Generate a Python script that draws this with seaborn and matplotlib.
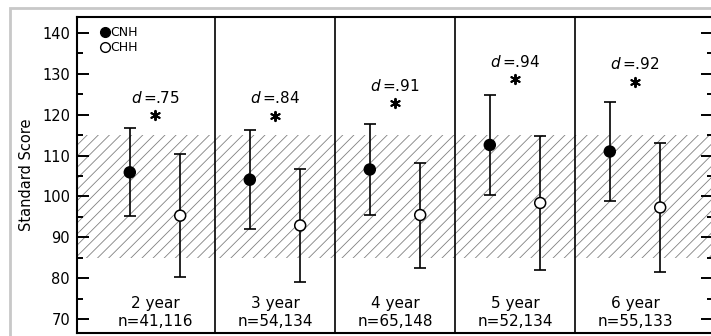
import matplotlib
matplotlib.use("Agg")
import matplotlib.pyplot as plt
import pandas as pd
import seaborn as sns
from matplotlib.lines import Line2D
from matplotlib.patches import Rectangle
from matplotlib.ticker import MultipleLocator

# values
ages = ["2 year", "3 year", "4 year", "5 year", "6 year"]
sample_sizes = ["n=41,116", "n=54,134", "n=65,148", "n=52,134", "n=55,133"]
cnh_mean = [105.9, 104.1, 106.6, 112.6, 111.0]
cnh_sd = [10.75, 12.15, 11.1, 12.2, 12.05]
chh_mean = [95.3, 92.9, 95.45, 98.4, 97.3]
chh_sd = [15.1, 13.8, 12.85, 16.4, 15.9]
effect_sizes = [".75", ".84", ".91", ".94", ".92"]
star_y = [120.0, 119.8, 122.8, 128.7, 128.1]
normal_range = (85, 115)

sns.set_style("ticks")
plt.rcParams["font.family"] = ["DejaVu Sans"]
plt.rcParams["hatch.linewidth"] = 0.6
for key in ["text.color", "axes.labelcolor", "xtick.color", "ytick.color", "axes.edgecolor"]:
    plt.rcParams[key] = "black"

offset = 0.21
rows = []
for i in range(len(ages)):
    rows.append({"pos": i - offset, "mean": cnh_mean[i], "sd": cnh_sd[i], "group": "CNH"})
    rows.append({"pos": i + offset, "mean": chh_mean[i], "sd": chh_sd[i], "group": "CHH"})
df = pd.DataFrame(rows)

fig = plt.figure(figsize=(7.11, 3.36), dpi=100)
ax = fig.add_axes([77 / 711, 2.7 / 336, 636 / 711, 316.6 / 336])

ax.axhspan(*normal_range, facecolor="none", edgecolor="#808080", hatch="///", lw=0, zorder=0)

ax.errorbar(df["pos"], df["mean"], yerr=df["sd"], fmt="none", ecolor="black",
            elinewidth=1.2, capsize=4.3, capthick=1.2, zorder=3)
sns.scatterplot(data=df, x="pos", y="mean", hue="group",
                palette={"CNH": "black", "CHH": "white"}, edgecolor="black",
                linewidth=1.1, s=62, zorder=4, legend=False, ax=ax)

for i in range(len(ages)):
    if i > 0:
        ax.axvline(i - 0.5, color="black", lw=1.2, zorder=2)
    ax.scatter(i, star_y[i], marker=(6, 2, 0), s=45, color="black", linewidths=1.4, zorder=4)
    ax.text(i, star_y[i] + 4.2, r"$d\,$=" + effect_sizes[i], ha="center", va="center", fontsize=11)
    ax.text(i, 73.9, ages[i], ha="center", va="center", fontsize=11)
    ax.text(i, 69.3, sample_sizes[i], ha="center", va="center", fontsize=11)

handles = [
    Line2D([], [], marker="o", ls="none", color="black", markersize=7, label="CNH"),
    Line2D([], [], marker="o", ls="none", markerfacecolor="white", markeredgecolor="black",
           markeredgewidth=1.0, markersize=7, label="CHH"),
]
ax.legend(handles=handles, loc="upper left", bbox_to_anchor=(0.036, 0.97), frameon=False,
          fontsize=9, handlelength=0.8, handletextpad=0.05, labelspacing=0.15,
          borderaxespad=0, borderpad=0)

ax.set_xlim(-0.65, 4.65)
ax.set_ylim(66.5, 144)
ax.set_xticks([])
ax.set_xlabel("")
ax.set_ylabel("Standard Score", fontsize=10.5, labelpad=6)
ax.yaxis.set_major_locator(MultipleLocator(10))
ax.yaxis.set_minor_locator(MultipleLocator(5))
ax.tick_params(axis="y", which="both", direction="in", right=True, width=1.4, labelsize=10.5, pad=5)
ax.tick_params(axis="y", which="major", length=8.5)
ax.tick_params(axis="y", which="minor", length=4)
for spine in ax.spines.values():
    spine.set_linewidth(1.5)
    spine.set_visible(True)

fig.patches.append(Rectangle((10 / 711, -0.1), 1.1, 1.1 - 8 / 336, transform=fig.transFigure,
                             fill=False, edgecolor="#c8c8c8", lw=2))

fig.savefig("out.png", dpi=100)
